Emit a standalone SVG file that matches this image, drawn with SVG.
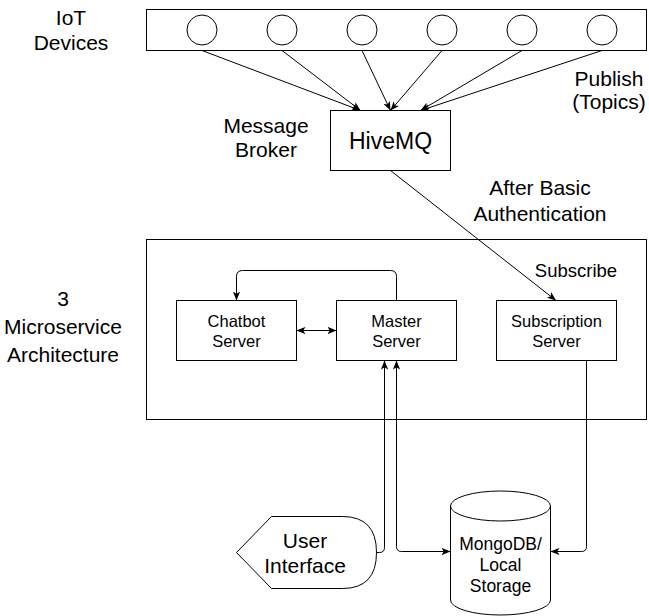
<svg xmlns="http://www.w3.org/2000/svg" width="649" height="616" viewBox="0 0 649 616">
<defs>
<marker id="arr" viewBox="0 0 10 8" refX="10" refY="4" markerWidth="9" markerHeight="7.2" markerUnits="userSpaceOnUse" orient="auto-start-reverse">
<path d="M0,0 L10,4 L0,8 L2.5,4 Z" fill="#000"/>
</marker>
</defs>
<style>
.box{fill:#fff;stroke:#000;stroke-width:1}
.t{font-family:"Liberation Sans",Arial,sans-serif;fill:#000;text-anchor:middle}
.big{font-size:21px}
.mid{font-size:16.5px}
.c{fill:none;stroke:#000;stroke-width:1}
</style>
<rect width="649" height="616" fill="#fff"/>

<g id="iot-devices">
<rect class="box" x="146.5" y="9.5" width="500" height="41"/>
<circle class="box" cx="202" cy="30" r="15"/>
<circle class="box" cx="282" cy="30" r="15"/>
<circle class="box" cx="362" cy="30" r="15"/>
<circle class="box" cx="442" cy="30" r="15"/>
<circle class="box" cx="522" cy="30" r="15"/>
<circle class="box" cx="602" cy="30" r="15"/>
</g>
<g id="label-iot"><text class="t big" x="71" y="25">IoT</text><text class="t big" x="71" y="50">Devices</text></g>
<g id="label-publish"><text class="t big" x="609" y="86">Publish</text><text class="t big" x="609" y="109">(Topics)</text></g>
<g id="label-broker"><text class="t big" x="266" y="133">Message</text><text class="t big" x="266" y="157">Broker</text></g>
<g id="hivemq">
<rect class="box" x="330.5" y="110.5" width="120" height="60"/>
<text class="t" style="font-size:23px" x="390.5" y="149">HiveMQ</text>
</g>
<g id="label-auth"><text class="t big" x="540" y="195">After Basic</text><text class="t big" x="540" y="221">Authentication</text></g>

<g id="microservices">
<rect class="box" x="146.5" y="239.5" width="500" height="180"/>
</g>
<g id="label-arch"><text class="t big" x="63" y="306">3</text><text class="t big" x="63" y="334">Microservice</text><text class="t big" x="63" y="362">Architecture</text></g>
<g id="label-subscribe"><text class="t" style="font-size:18.5px" x="576" y="277">Subscribe</text></g>
<g id="chatbot">
<rect class="box" x="176.5" y="300.5" width="120" height="60"/>
<text class="t mid" x="236.5" y="327">Chatbot</text><text class="t mid" x="236.5" y="347">Server</text>
</g>
<g id="master">
<rect class="box" x="336.5" y="300.5" width="120" height="60"/>
<text class="t mid" x="396.5" y="327">Master</text><text class="t mid" x="396.5" y="347">Server</text>
</g>
<g id="subscription">
<rect class="box" x="496.5" y="300.5" width="120" height="60"/>
<text class="t mid" x="556.5" y="327">Subscription</text><text class="t mid" x="556.5" y="347">Server</text>
</g>

<g id="user-interface">
<path class="box" d="M236.5,552.5 L271.5,516.5 L342.5,516.5 Q376.5,516.5 376.5,552.5 Q376.5,588.5 342.5,588.5 L271.5,588.5 Z"/>
<text class="t big" x="305" y="548">User</text><text class="t big" x="305" y="573">Interface</text>
</g>
<g id="mongodb">
<path class="box" d="M450.5,506 A50,15 0 0,1 550.5,506 V600 A50,15 0 0,1 450.5,600 Z"/>
<path class="c" d="M450.5,506 A50,15 0 0,0 550.5,506"/>
<text class="t" style="font-size:17.5px" x="500.5" y="550">MongoDB/</text>
<text class="t" style="font-size:17.5px" x="500.5" y="571">Local</text>
<text class="t" style="font-size:17.5px" x="500.5" y="592">Storage</text>
</g>

<g id="connectors">
<path class="c" marker-end="url(#arr)" d="M202,50.5 L360.5,110.5"/>
<path class="c" marker-end="url(#arr)" d="M282,50.5 L360.5,110.5"/>
<path class="c" marker-end="url(#arr)" d="M362,50.5 L390.5,110.5"/>
<path class="c" marker-end="url(#arr)" d="M442,50.5 L390.5,110.5"/>
<path class="c" marker-end="url(#arr)" d="M522,50.5 L420.5,110.5"/>
<path class="c" marker-end="url(#arr)" d="M602,50.5 L420.5,110.5"/>
<path class="c" marker-end="url(#arr)" d="M390.5,170.5 L556,300.5"/>
<path class="c" marker-start="url(#arr)" marker-end="url(#arr)" d="M296.5,330.5 H336.5"/>
<path class="c" marker-end="url(#arr)" d="M396.5,300.5 V276.5 Q396.5,270.5 390.5,270.5 H242.5 Q236.5,270.5 236.5,276.5 V300.5"/>
<path class="c" marker-end="url(#arr)" d="M376.5,552.5 H379.5 Q384.5,552.5 384.5,547.5 V360.5"/>
<path class="c" marker-start="url(#arr)" marker-end="url(#arr)" d="M396.5,360.5 V546.5 Q396.5,551.5 401.5,551.5 H450.5"/>
<path class="c" marker-end="url(#arr)" d="M586.5,360.5 V546.5 Q586.5,551.5 581.5,551.5 H550.5"/>
</g>
</svg>
